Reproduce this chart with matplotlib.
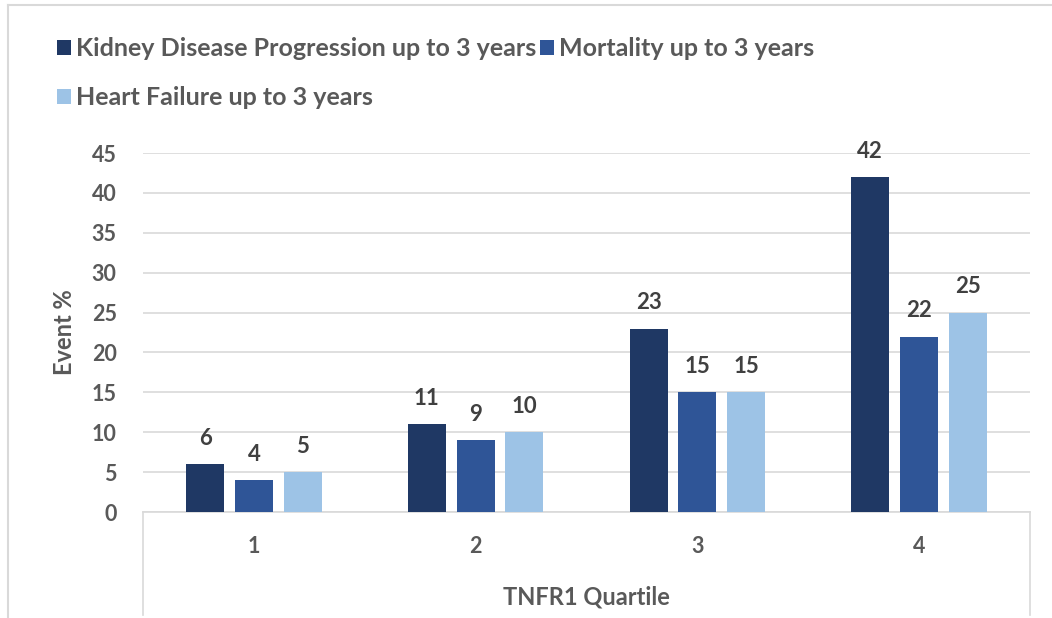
import matplotlib
matplotlib.use('Agg')
import matplotlib.pyplot as plt
from matplotlib.lines import Line2D
import numpy as np

quartiles = ['1', '2', '3', '4']
kidney = [6, 11, 23, 42]
mortality = [4, 9, 15, 22]
heart = [5, 10, 15, 25]
series_names = ['Kidney Disease Progression up to 3 years',
                'Mortality up to 3 years',
                'Heart Failure up to 3 years']
colors = ['#1F3864', '#2F5597', '#9DC3E6']

plt.rcParams['font.family'] = ['Lato', 'DejaVu Sans']
plt.rcParams['font.weight'] = 'bold'
grey = '#595959'

fig = plt.figure(figsize=(10.52, 6.18), dpi=100)
ax = fig.add_axes([0.136, 0.1715, 0.843, 0.5809])

x = np.arange(len(quartiles))
step = 0.22
width = 0.171
handles = []
for i, (vals, name, c) in enumerate(zip([kidney, mortality, heart], series_names, colors)):
    bars = ax.bar(x + (i - 1) * step, vals, width, color=c, label=name, zorder=3)
    handles.append(bars)
    for b, v in zip(bars, vals):
        ax.annotate(f'{v}', xy=(b.get_x() + b.get_width() / 2, v),
                    xytext=(0, 11), textcoords='offset points',
                    ha='center', va='bottom', fontsize=16, fontweight='bold',
                    color='#404040')

ax.set_xlim(-0.5, 3.5)
ax.set_ylim(0, 45)
ax.set_yticks(range(0, 46, 5))
ax.yaxis.grid(True, color='#D9D9D9', linewidth=1.2, zorder=0)
for s in ['top', 'right', 'left']:
    ax.spines[s].set_visible(False)
ax.spines['bottom'].set_color('#D9D9D9')
ax.spines['bottom'].set_linewidth(1.2)
ax.tick_params(axis='both', length=0, labelsize=15.5, labelcolor=grey)
ax.tick_params(axis='x', pad=17)
ax.tick_params(axis='y', pad=19)
ax.set_xticks(x)
ax.set_xticklabels(quartiles, fontweight='bold')
for lab in ax.get_yticklabels():
    lab.set_fontweight('bold')

# side lines of the category axis box
for xe in [-0.5, 3.5]:
    ax.plot([xe, xe], [0, -12.9], color='#D9D9D9', linewidth=1.2, clip_on=False)

ax.set_ylabel('Event %', fontsize=17, fontweight='bold', color=grey, labelpad=11)
ax.set_xlabel('TNFR1 Quartile', fontsize=17, fontweight='bold', color=grey, labelpad=21)

# outer frame (top and left edges)
fig.add_artist(Line2D([0.0076, 1.0], [0.992, 0.992], color='#D9D9D9', linewidth=1.5))
fig.add_artist(Line2D([0.0076, 0.0076], [0.0, 0.992], color='#D9D9D9', linewidth=1.5))

order = [0, 2, 1]
leg = fig.legend([handles[i] for i in order], [series_names[i] for i in order],
                 ncol=2, loc='upper left', bbox_to_anchor=(0.054, 0.94),
                 frameon=False, fontsize=18, handlelength=0.56, handleheight=0.56,
                 handletextpad=0.2, columnspacing=0.15, labelspacing=1.05,
                 borderpad=0, borderaxespad=0)
for t in leg.get_texts():
    t.set_color(grey)
    t.set_fontweight('bold')

fig.savefig('out.png', dpi=100)
